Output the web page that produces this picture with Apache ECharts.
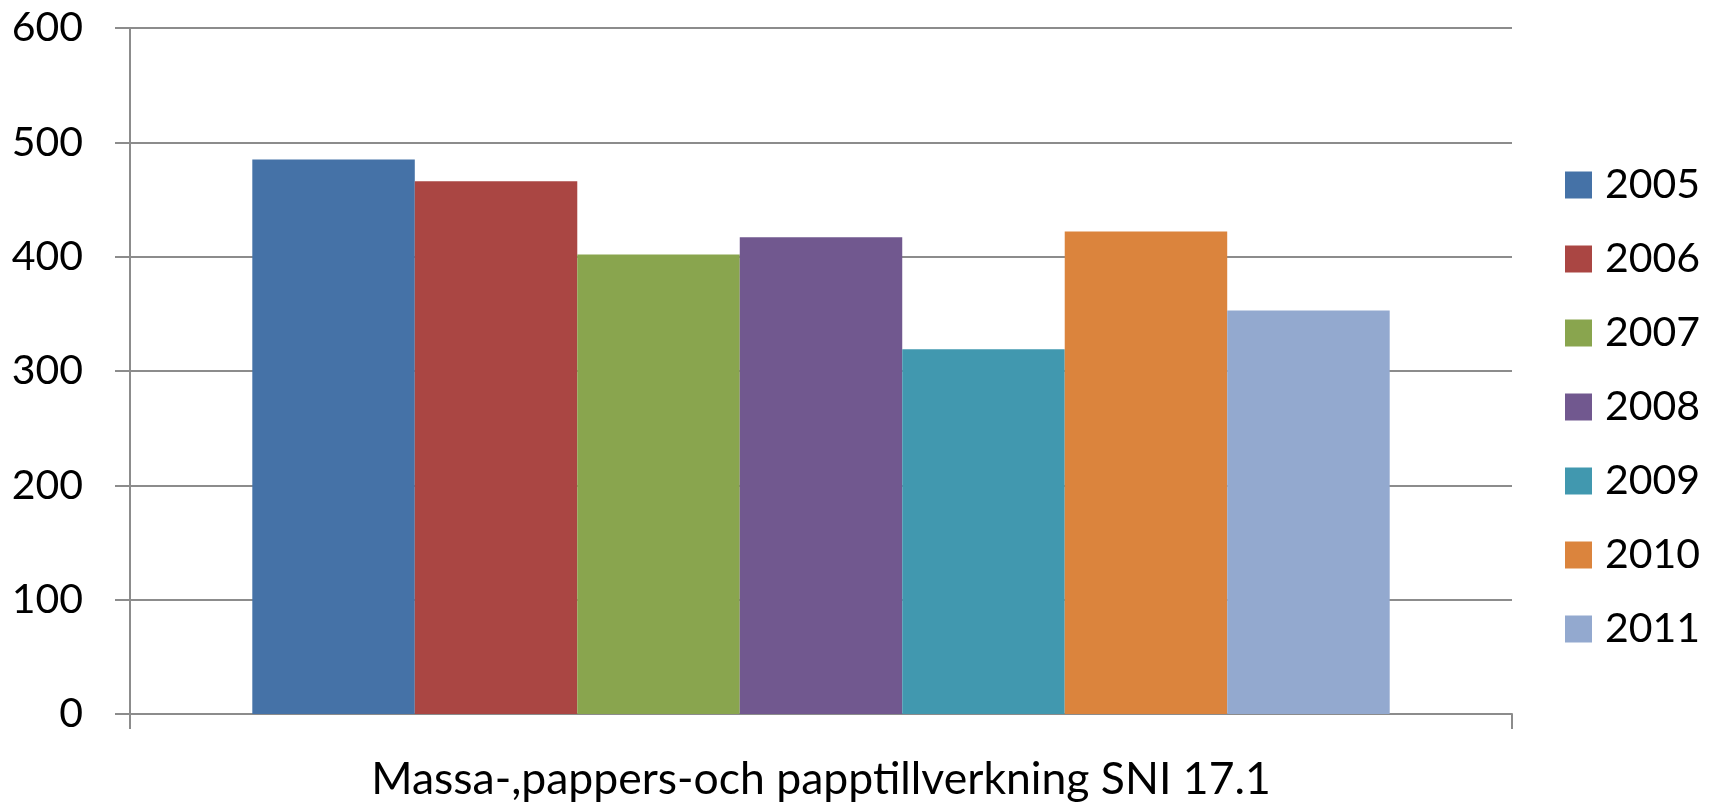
<!DOCTYPE html>
<html>
<head>
<meta charset="utf-8">
<title>Massa-,pappers-och papptillverkning</title>
<script src="https://cdn.jsdelivr.net/npm/echarts@6/dist/echarts.min.js"></script>
<style>
  html, body { margin: 0; padding: 0; background: #fff; }
  #chart { width: 1713px; height: 802px; }
</style>
</head>
<body>
<div id="chart"></div>
<script>
// data
const categories = ['Massa-,pappers-och papptillverkning SNI 17.1'];
const years = ['2005', '2006', '2007', '2008', '2009', '2010', '2011'];
const values = [485, 466, 402, 417, 319, 422, 353];
const colors = ['#4572A7', '#AA4643', '#89A54E', '#71588F', '#4198AF', '#DB843D', '#93A9CF'];
const yTicks = { min: 0, max: 600, interval: 100 };

const lineColor = '#8c8c8c';
const font = 'Lato, "Open Sans", sans-serif';

const chart = echarts.init(document.getElementById('chart'));

const series = years.map((y, i) => ({
  name: y,
  type: 'bar',
  data: [values[i]],
  barGap: '0%',
  barCategoryGap: '17.7%',
  itemStyle: { color: colors[i] },
}));

chart.setOption({
  animation: false,
  grid: { left: 130, right: 201, top: 28, bottom: 84 },
  legend: {
    orient: 'vertical',
    left: 1560,
    top: 159,
    itemWidth: 27,
    itemHeight: 27,
    itemGap: 32,
    icon: 'rect',
    data: years,
    textStyle: {
      fontFamily: font,
      fontSize: 41,
      lineHeight: 42,
      color: '#000',
      padding: [0, 0, 0, 8],
    },
  },
  xAxis: {
    type: 'category',
    data: categories,
    axisLine: { lineStyle: { color: lineColor, width: 2 } },
    axisTick: { show: true, length: 15, lineStyle: { color: lineColor, width: 2 } },
    axisLabel: {
      fontFamily: font,
      fontSize: 44.5,
      color: '#000',
      margin: 43,
    },
  },
  yAxis: {
    type: 'value',
    min: yTicks.min,
    max: yTicks.max,
    interval: yTicks.interval,
    axisLine: { show: true, lineStyle: { color: lineColor, width: 2 } },
    axisTick: { show: true, length: 15, lineStyle: { color: lineColor, width: 2 } },
    splitLine: { lineStyle: { color: lineColor, width: 2 } },
    axisLabel: {
      fontFamily: font,
      fontSize: 41,
      color: '#000',
      margin: 47,
    },
  },
  series: series,
});
</script>
</body>
</html>
